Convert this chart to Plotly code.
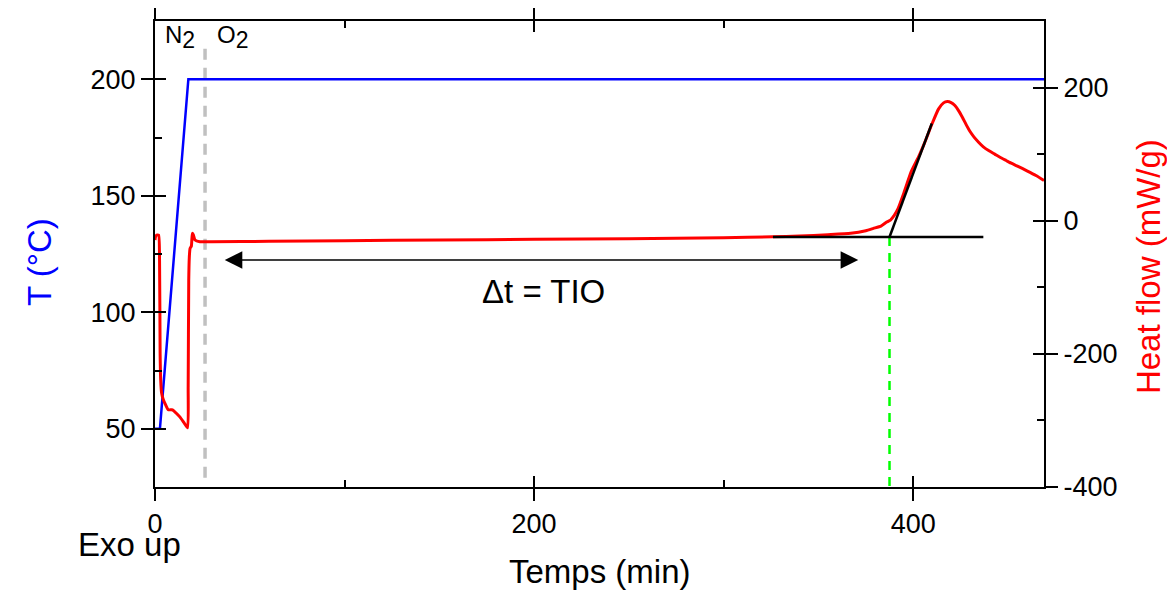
import plotly.graph_objects as go

# ---------------- data ----------------
time_T = [0, 2.6, 17.6, 469]
temp_T = [50, 50, 200, 200]

time_hf = [0, 0.2, 0.9, 1.9, 2.4, 2.7, 3.0, 3.5, 4.4, 5.5, 7.0, 8.8, 9.7, 11.5, 13.2, 15.2, 17.2,
           17.5, 17.8, 18.1, 18.5, 19.2, 19.7, 20.2, 21.1, 23.7, 30, 60, 100, 150, 200, 250, 300,
           326, 340, 355, 367, 375, 379, 383, 386, 388, 390, 392, 395, 399, 403, 406, 410, 413.4,
           416, 418, 420, 422, 424, 426, 428, 430, 432, 434.5, 437, 440, 443, 446, 449, 452, 455,
           460, 465, 469]
heat_flow = [-29, -25, -21.5, -21.5, -60, -200, -239, -259, -269, -276, -284, -284, -285, -290, -295, -303, -311,
             -250, -90, -55, -41.5, -38, -19, -21, -29, -31.5, -31.5, -31, -30, -29, -28, -27, -25.5,
             -24, -23, -21, -19, -15, -11.5, -8, -2, 1, 8, 18, 41, 74, 97, 117, 146, 168,
             177, 179, 177.5, 173, 165, 155, 144, 134, 126, 118, 111, 105, 100, 95, 90.5, 86, 82,
             75, 67.5, 60.5]

o2_switch_t = [26.4, 26.4]
o2_switch_T = [29, 215]

baseline_t = [326, 437]
baseline_hf = [-24.5, -24.5]
tangent_t = [387.5, 409.8]
tangent_hf = [-24.5, 146]
onset_t = [387.5, 387.5]
onset_hf = [-24.5, -400]
arrow_t = [36, 371]
arrow_hf = -59

x_range = [0, 469]
x_tickvals = [0, 200, 400]
yT_range = [25, 225]
yT_tickvals = [50, 100, 150, 200]
yHF_range = [-400, 300]
yHF_tickvals = [-400, -200, 0, 200]
yHF_ticktext = ["-400", "-200", "0", "200"]

FONT = "Liberation Sans, Arial, sans-serif"
TICK_SIZE = 27
TITLE_SIZE = 33

fig = go.Figure()

fig.add_trace(go.Scatter(x=o2_switch_t, y=o2_switch_T, mode="lines",
                         line=dict(color="#c0c0c0", width=3.5, dash="11px,8px"),
                         yaxis="y", showlegend=False, hoverinfo="skip"))
fig.add_trace(go.Scatter(x=time_T, y=temp_T, mode="lines",
                         line=dict(color="#0000ff", width=2.5), yaxis="y", showlegend=False))
fig.add_trace(go.Scatter(x=onset_t, y=onset_hf, mode="lines",
                         line=dict(color="#00ff00", width=2.5, dash="9px,7px"),
                         yaxis="y2", showlegend=False, hoverinfo="skip"))
fig.add_trace(go.Scatter(x=time_hf, y=heat_flow, mode="lines",
                         line=dict(color="#ff0000", width=3, shape="spline", smoothing=0.5),
                         yaxis="y2", showlegend=False))
fig.add_trace(go.Scatter(x=baseline_t, y=baseline_hf, mode="lines",
                         line=dict(color="black", width=2.5), yaxis="y2", showlegend=False))
fig.add_trace(go.Scatter(x=tangent_t, y=tangent_hf, mode="lines",
                         line=dict(color="black", width=2.5), yaxis="y2", showlegend=False))

tickfont = dict(family=FONT, size=TICK_SIZE, color="black")
MAJ_OUT = 12
MAJ_IN = 11
MIN_IN = 7

common = dict(showgrid=False, zeroline=False, automargin=False, tickwidth=2, tickcolor="black")

fig.update_layout(
    template="none",
    width=1167, height=582,
    margin=dict(l=147, r=131, t=13, b=103, pad=0),
    paper_bgcolor="white", plot_bgcolor="white",
    font=dict(family=FONT, color="black"),
    xaxis=dict(range=x_range, tickmode="array", tickvals=x_tickvals,
               ticks="outside", ticklen=MAJ_OUT,
               showline=True, linewidth=2, linecolor="black", mirror="ticks",
               tickfont=tickfont, **common),
    xaxis2=dict(range=x_range, overlaying="x", anchor="y", tickmode="array", tickvals=x_tickvals,
                ticks="inside", ticklen=MAJ_IN,
                showline=False, mirror="ticks", showticklabels=False,
                minor=dict(ticks="inside", ticklen=MIN_IN, tickwidth=2, tickcolor="black",
                           tick0=0, dtick=100, showgrid=False), **common),
    yaxis=dict(range=yT_range, tickmode="array", tickvals=yT_tickvals,
               ticks="outside", ticklen=MAJ_OUT,
               showline=True, linewidth=2, linecolor="black",
               tickfont=tickfont, **common),
    yaxis3=dict(range=yT_range, overlaying="y", anchor="x", side="left", tickmode="array", tickvals=yT_tickvals,
                ticks="inside", ticklen=MAJ_IN,
                showline=False, showticklabels=False,
                minor=dict(ticks="inside", ticklen=MIN_IN, tickwidth=2, tickcolor="black",
                           tick0=50, dtick=25, showgrid=False), **common),
    yaxis2=dict(range=yHF_range, overlaying="y", anchor="x", side="right", tickmode="array",
                tickvals=yHF_tickvals, ticktext=yHF_ticktext,
                ticks="outside", ticklen=MAJ_OUT,
                showline=True, linewidth=2, linecolor="black",
                tickfont=tickfont, **common),
    yaxis4=dict(range=yHF_range, overlaying="y", anchor="x", side="right", tickmode="array", tickvals=yHF_tickvals,
                ticks="inside", ticklen=MAJ_IN,
                showline=False, showticklabels=False,
                minor=dict(ticks="inside", ticklen=MIN_IN, tickwidth=2, tickcolor="black",
                           tick0=-400, dtick=100, showgrid=False), **common),
)

# empty traces so the overlay tick axes are drawn
fig.add_trace(go.Scatter(x=[None], y=[None], xaxis="x2", yaxis="y3", showlegend=False, hoverinfo="skip"))
fig.add_trace(go.Scatter(x=[None], y=[None], xaxis="x2", yaxis="y4", showlegend=False, hoverinfo="skip"))

gas_font = dict(family=FONT, size=24, color="black")
sub2 = "<sub><span style='font-size:23px'>2</span></sub>"
annotations = [
    # double arrow
    dict(x=arrow_t[1], y=arrow_hf, ax=arrow_t[0], ay=arrow_hf, xref="x", yref="y2", axref="x", ayref="y2",
         text="", showarrow=True, arrowhead=2, startarrowhead=2, arrowside="end+start",
         arrowsize=2.2, startarrowsize=2.2, arrowwidth=1.6, arrowcolor="black"),
    dict(x=205, y=-106, xref="x", yref="y2", text="\u0394t = TIO", showarrow=False,
         font=dict(family=FONT, size=TITLE_SIZE, color="black")),
    dict(x=4, y=218, xref="x", yref="y", text="N" + sub2, showarrow=False,
         xanchor="left", yanchor="middle", font=gas_font),
    dict(x=31.5, y=218, xref="x", yref="y", text="O" + sub2, showarrow=False,
         xanchor="left", yanchor="middle", font=gas_font),
    dict(x=-0.029, y=-0.124, xref="paper", yref="paper", text="Exo up", showarrow=False,
         xanchor="center", yanchor="middle",
         font=dict(family=FONT, size=TITLE_SIZE, color="black")),
    dict(x=0.5, y=-0.182, xref="paper", yref="paper", text="Temps (min)", showarrow=False,
         xanchor="center", yanchor="middle",
         font=dict(family=FONT, size=TITLE_SIZE, color="black")),
    dict(x=-0.1294, y=0.483, xref="paper", yref="paper", text="T (\u00b0C)", showarrow=False,
         xanchor="center", yanchor="middle",
         textangle=-90, font=dict(family=FONT, size=TITLE_SIZE, color="#0000ff")),
    dict(x=1.117, y=0.472, xref="paper", yref="paper", text="Heat flow (mW/g)", showarrow=False,
         xanchor="center", yanchor="middle",
         textangle=-90, font=dict(family=FONT, size=TITLE_SIZE, color="#ff0000")),
]
fig.update_layout(annotations=annotations)

fig.write_html("out.html")
